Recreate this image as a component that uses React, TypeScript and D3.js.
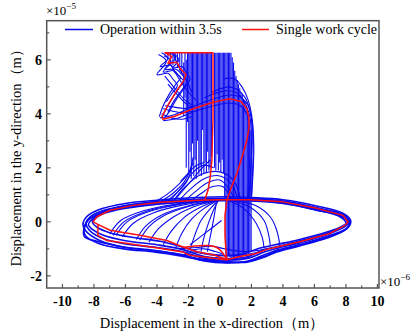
import React from 'react'
import * as d3 from 'd3'

type Pt = [number, number]

// axis ticks (x in 1e-6 m, y in 1e-5 m)
const xTickValues = [-10, -8, -6, -4, -2, 0, 2, 4, 6, 8, 10]
const xMinorTicks = [-9, -7, -5, -3, -1, 1, 3, 5, 7, 9]
const yTickValues = [-2, 0, 2, 4, 6]
const yMinorTicks = [-1, 1, 3, 5, 7]

// single work cycle (red)
const redCycle: Pt[] = [
  [-0.95, 0.83], [-0.76, 1.17], [-0.63, 1.61], [-0.51, 2.28], [-0.48, 3.02], [-0.44, 3.76],
  [-0.44, 4.5], [-0.44, 5.24], [-0.44, 6.26],
  [-3.49, 6.26], [-3.05, 6.13], [-3.3, 5.87], [-2.73, 5.91], [-2.54, 5.69], [-2.16, 5.46],
  [-2.29, 5.24], [-2.73, 4.87], [-3.24, 4.39], [-3.68, 3.91], [-3.62, 3.8],
  [-2.86, 3.91], [-1.78, 4.17], [-0.44, 4.43], [0.63, 4.56], [1.33, 4.46], [1.71, 4.2],
  [1.84, 3.83], [1.84, 3.46], [1.71, 3.02], [1.4, 2.39], [1.08, 1.8], [0.7, 1.24],
  [0.44, 0.8], [0.32, 0.24], [0.32, -0.5], [0.38, -1.06], [0.44, -1.4],
  [1.27, -1.28], [2.29, -1.17], [2.98, -1.02], [3.62, -0.93], [5.08, -0.74], [6.98, -0.43],
  [7.94, -0.13], [8.13, 0.0], [7.81, 0.24], [6.16, 0.5], [4.0, 0.74], [1.9, 0.82],
  [0.44, 0.83], [-1.27, 0.8], [-3.81, 0.73], [-5.52, 0.61], [-6.98, 0.43], [-7.81, 0.19],
  [-8.06, 0.0], [-7.62, -0.13], [-6.98, -0.31], [-5.08, -0.5], [-3.37, -0.69], [-2.35, -0.93],
  [-1.46, -1.11], [-0.32, -1.24], [0.44, -1.4],
  [-0.3, -1.36], [-1.9, -1.24], [-2.35, -1.12], [-5.08, -0.87], [-7.17, -0.69], [-7.75, -0.5],
  [-7.75, -0.13],
]
const redLens: Pt[] = [
  [-2.35, -0.95], [-1.7, -0.9], [-0.8, -0.88], [-0.2, -0.95], [0.1, -1.1], [0.44, -1.4],
]

// operation within 3.5 s (blue)
const blueRings: Pt[][] = [
  [[-8.7, -0.1], [-8.45, 0.2], [-7.7, 0.45], [-6, 0.68], [-4, 0.8], [-1.5, 0.9], [0.5, 0.93], [2, 0.9],
   [4, 0.82], [6.2, 0.58], [7.8, 0.32], [8.3, 0.05], [8.15, -0.2], [7, -0.5], [5.2, -0.82], [3.8, -1.02],
   [2.9, -1.2], [1.8, -1.45], [0.5, -1.52], [-1, -1.45], [-2.5, -1.2], [-4, -1.08], [-6, -0.95],
   [-7.6, -0.7], [-8.5, -0.35]],
  [[-8.5, -0.05], [-8.2, 0.2], [-7.4, 0.42], [-5.8, 0.62], [-3.8, 0.76], [-1.3, 0.84], [0.5, 0.87], [2, 0.85],
   [4, 0.77], [6.1, 0.53], [7.8, 0.27], [8.2, 0.02], [8.0, -0.15], [6.9, -0.45], [5.1, -0.77], [3.7, -0.97],
   [2.8, -1.12], [1.8, -1.35], [0.5, -1.42], [-1, -1.35], [-2.4, -1.1], [-4, -0.95], [-6, -0.82],
   [-7.5, -0.6], [-8.3, -0.3]],
  [[-8.35, -0.1], [-8.0, 0.15], [-7.2, 0.38], [-5.6, 0.58], [-3.6, 0.72], [-1.2, 0.8], [0.5, 0.83], [2, 0.81],
   [4, 0.73], [6.1, 0.48], [7.7, 0.22], [8.1, -0.02], [7.9, -0.12], [6.9, -0.4], [5.0, -0.72], [3.6, -0.92],
   [2.7, -1.05], [1.8, -1.28], [0.5, -1.36], [-1, -1.28], [-2.4, -1.02], [-4, -0.85], [-6, -0.7],
   [-7.4, -0.5], [-8.1, -0.28]],
  [[-8.1, 0.0], [-7.6, 0.25], [-6.5, 0.45], [-4.5, 0.62], [-2, 0.74], [0, 0.78], [2, 0.77], [4, 0.68],
   [6, 0.45], [7.6, 0.2], [8.0, -0.05], [7.8, -0.15], [6.8, -0.38], [5, -0.66], [3.5, -0.85], [2.5, -0.98],
   [1.5, -1.18], [0.3, -1.25], [-1, -1.18], [-2.3, -0.95], [-3.8, -0.72], [-5.5, -0.58], [-7, -0.4],
   [-7.8, -0.2]],
  [[-8.6, -0.2], [-8.3, 0.1], [-7.5, 0.35], [-5.9, 0.6], [-3.9, 0.74], [-1.4, 0.82], [0.5, 0.85], [2.1, 0.83],
   [4.1, 0.75], [6.2, 0.5], [7.9, 0.22], [8.25, -0.04], [8.05, -0.25], [6.9, -0.55], [5.1, -0.86], [3.7, -1.08],
   [2.8, -1.28], [1.7, -1.48], [0.4, -1.5], [-1.1, -1.42], [-2.6, -1.25], [-4.1, -1.12], [-6.1, -1.0],
   [-7.7, -0.8], [-8.55, -0.5]],
  [[-8.65, -0.3], [-8.4, 0.05], [-7.6, 0.3], [-6.0, 0.55], [-4.0, 0.7], [-1.5, 0.8], [0.5, 0.84], [2.0, 0.8],
   [4.0, 0.7], [6.1, 0.44], [7.8, 0.18], [8.2, -0.08], [7.95, -0.3], [6.8, -0.6], [5.0, -0.9], [3.6, -1.12],
   [2.7, -1.33], [1.6, -1.5], [0.3, -1.46], [-1.2, -1.38], [-2.7, -1.2], [-4.2, -1.05], [-6.2, -0.92],
   [-7.8, -0.72], [-8.6, -0.55]],
]

const blueArcsLeft: Pt[][] = [
  [[-7.0, -0.45], [-6.3, 0.05], [-4.8, 0.42], [-2.8, 0.66], [-0.9, 0.8], [0.3, 0.84]],
  [[-6.8, -0.5], [-6.1, 0.0], [-4.6, 0.4], [-2.7, 0.65], [-0.85, 0.8], [0.3, 0.84]],
  [[-6.6, -0.5], [-5.9, 0.0], [-4.5, 0.38], [-2.6, 0.64], [-0.8, 0.79], [0.3, 0.83]],
  [[-6.2, -0.55], [-5.5, -0.05], [-4.2, 0.34], [-2.4, 0.62], [-0.7, 0.78], [0.3, 0.82]],
  [[-5.3, -0.65], [-4.7, -0.15], [-3.6, 0.28], [-2.1, 0.58], [-0.6, 0.76], [0.3, 0.82]],
  [[-5.1, -0.68], [-4.5, -0.18], [-3.45, 0.26], [-2.0, 0.57], [-0.55, 0.76], [0.3, 0.82]],
  [[-4.5, -0.75], [-3.9, -0.25], [-2.9, 0.2], [-1.7, 0.55], [-0.5, 0.75], [0.3, 0.8]],
  [[-3.6, -0.85], [-3.1, -0.35], [-2.3, 0.15], [-1.3, 0.52], [-0.3, 0.76]],
  [[-2.8, -0.95], [-2.4, -0.4], [-1.8, 0.1], [-1.0, 0.5], [-0.2, 0.78]],
  [[-1.9, -1.05], [-1.6, -0.5], [-1.2, 0.05], [-0.6, 0.5], [-0.1, 0.8]],
  [[-1.2, -1.1], [-1.0, -0.55], [-0.7, 0.0], [-0.4, 0.45], [-0.1, 0.8]],
  [[-0.8, -1.1], [-0.6, -0.5], [-0.4, 0.1], [-0.2, 0.8]],
  [[-1.9, -0.85], [-0.9, -0.4], [0.1, 0.05]],
]

const blueArcsRight: Pt[][] = [
  [[0.6, 0.82], [2.3, 0.6], [3.2, 0.18], [3.6, -0.3], [3.8, -0.85]],
  [[0.5, 0.82], [1.9, 0.55], [2.8, 0.05], [3.1, -0.5], [3.2, -0.9]],
  [[0.5, 0.8], [1.5, 0.5], [2.3, -0.05], [2.7, -0.6], [2.8, -0.98]],
]

const blueDome: Pt[][] = [
  [[-3.0, 0.75], [-2.2, 1.3], [-1.2, 1.75], [0.0, 1.85], [0.9, 1.5], [1.3, 0.85]],
  [[-2.6, 0.78], [-1.9, 1.2], [-1.0, 1.6], [0.0, 1.7], [0.8, 1.35], [1.1, 0.85]],
  [[-2.2, 0.8], [-1.6, 1.1], [-0.8, 1.45], [0.0, 1.55], [0.6, 1.2], [0.9, 0.85]],
  [[-1.8, 0.8], [-1.2, 1.05], [-0.5, 1.3], [0.2, 1.3], [0.7, 0.85]],
  [[-4.2, 0.72], [-3.4, 1.0], [-2.6, 1.4], [-2.0, 1.8], [-1.7, 2.2]],
  [[-3.8, 0.74], [-3.0, 1.05], [-2.3, 1.45], [-1.9, 1.9], [-1.7, 2.4]],
  [[-3.4, 0.76], [-2.7, 1.1], [-2.1, 1.5], [-1.8, 2.0]],
  [[-3.2, 0.76], [-2.4, 1.3], [-1.6, 1.9], [-1.0, 2.1], [-0.4, 2.0]],
  [[-2.9, 0.78], [-2.3, 1.2], [-1.7, 1.6], [-1.2, 1.95], [-0.6, 2.3]],
  [[-2.5, 1.5], [-2.1, 1.75], [-1.6, 2.05], [-1.0, 2.2]],
]

const blueZigzag: Pt[][] = [
  [[-3.7, 6.26], [-3.3, 6.05], [-3.8, 5.75], [-3.1, 5.8], [-2.9, 5.55], [-2.5, 5.35], [-2.8, 5.1], [-3.2, 4.75], [-3.6, 4.3], [-3.85, 3.9]],
  [[-3.3, 6.26], [-2.8, 6.1], [-3.6, 5.55], [-2.9, 5.6], [-2.6, 5.4], [-2.3, 5.2], [-2.6, 4.95], [-3.0, 4.6], [-3.4, 4.2], [-3.7, 3.85]],
  [[-3.9, 6.2], [-3.4, 5.95], [-4.0, 5.45], [-3.3, 5.5], [-3.0, 5.3], [-2.7, 5.05], [-3.0, 4.8], [-3.4, 4.45]],
  [[-3.0, 6.26], [-2.6, 6.0], [-3.0, 5.7], [-2.4, 5.75], [-2.1, 5.5], [-1.9, 5.3], [-2.2, 5.0], [-2.7, 4.6], [-3.2, 4.1], [-3.5, 3.85]],
  [[-3.55, 6.15], [-3.1, 5.95], [-3.5, 5.65], [-2.8, 5.65], [-2.4, 5.45], [-2.1, 5.2], [-2.4, 4.9], [-2.9, 4.5], [-3.3, 4.05]],
  [[-3.2, 5.9], [-2.6, 5.3], [-2.0, 4.8], [-1.5, 4.5]],
  [[-3.5, 5.4], [-2.8, 4.9], [-2.2, 4.5], [-1.7, 4.3]],
  [[-3.0, 6.26], [-2.5, 5.6], [-2.0, 5.1], [-1.8, 4.8]],
  [[-3.3, 5.1], [-2.7, 4.7], [-2.1, 4.35], [-1.6, 4.2]],
  [[-3.6, 4.2], [-3.0, 4.1], [-2.4, 4.05], [-1.8, 4.1]],
  [[-3.7, 4.0], [-3.1, 3.85], [-2.4, 3.8], [-1.8, 3.9]],
  [[-3.5, 4.3], [-2.9, 4.25], [-2.3, 4.2], [-1.7, 4.25]],
]

const blueArches: Pt[][] = [
  [[-3.8, 3.85], [-2.9, 3.97], [-1.8, 4.25], [-0.4, 4.55], [0.6, 4.7], [1.35, 4.6], [1.8, 4.3], [2.0, 3.8], [2.05, 3.0], [1.95, 2.0], [1.85, 1.0], [1.8, 0.85]],
  [[-3.6, 3.75], [-2.8, 3.82], [-1.8, 4.05], [-0.4, 4.3], [0.6, 4.4], [1.3, 4.3], [1.7, 4.0], [1.85, 3.5], [1.9, 2.8], [1.85, 1.8], [1.75, 0.85]],
  [[-0.5, 4.8], [0.5, 5.0], [1.1, 4.9], [1.6, 4.6], [1.95, 4.0], [2.1, 3.3], [2.1, 2.4], [2.05, 1.5], [2.0, 0.85]],
  [[0.2, 5.3], [0.9, 5.3], [1.4, 5.0], [1.8, 4.5], [2.05, 3.8], [2.15, 2.8], [2.1, 1.8], [2.0, 0.9]],
  [[-1.0, 4.6], [0.3, 4.85], [1.0, 4.8], [1.5, 4.5], [1.9, 3.9], [2.0, 3.0], [1.98, 2.0], [1.9, 0.9]],
]

const blueBottom: Pt[][] = [
  [[-2.6, -1.0], [-1.5, -0.95], [-0.5, -0.9], [0.3, -1.0], [1.5, -1.1], [2.5, -1.05], [3.0, -1.0]],
  [[-2.3, -1.2], [-1.0, -1.3], [0.0, -1.35], [1.0, -1.4], [2.0, -1.3]],
  [[-1.8, -1.05], [-1.0, -1.0], [-0.3, -1.1], [0.2, -1.2]],
  [[-2.1, -1.1], [-1.2, -1.15], [-0.4, -1.2], [0.6, -1.25], [1.6, -1.22], [2.6, -1.1]],
]

// vertical strokes of the central column: [x, yTop, yBottom]
const columnLines: [number, number, number][] = [
  [-3.3, 6.26, 6.0], [-3.15, 6.26, 5.9], [-2.98, 6.26, 5.8], [-2.85, 6.26, 5.95], [-2.7, 6.26, 5.7],
  [-2.55, 6.26, 5.6], [-2.42, 6.26, 5.5], [-2.3, 5.9, 3.9], [-2.22, 6.26, 4.6], [-2.14, 6.0, 2.0],
  [-2.06, 6.26, 3.7], [-1.98, 6.26, 1.8], [-1.9, 6.26, 2.6], [-1.82, 6.26, 1.6], [-1.74, 6.26, 2.9],
  [-1.66, 6.26, 1.7], [-1.58, 6.26, 2.3], [-1.5, 6.26, 1.6], [-1.42, 6.26, 3.0], [-1.34, 6.26, 1.75],
  [-1.26, 6.26, 2.1], [-1.18, 6.26, 1.7], [-1.1, 6.26, 3.4], [-1.02, 6.26, 1.8], [-0.94, 6.26, 2.2],
  [-0.86, 6.26, 1.85], [-0.78, 6.26, 2.6], [-0.7, 6.26, 1.9], [-0.62, 6.26, 2.0], [-0.54, 6.26, 2.4],
  [-0.34, 6.26, 2.0], [-0.26, 6.26, 1.9], [-0.18, 6.26, 2.5], [-0.1, 6.26, 1.9], [-0.02, 6.26, 2.2],
  [0.06, 6.26, 1.85], [0.14, 6.26, 2.3], [0.22, 6.26, 1.8], [0.3, 6.26, 0.9], [0.38, 6.26, -1.2],
  [0.46, 6.26, -1.3], [0.54, 6.26, -1.25], [0.62, 6.26, -1.3], [0.7, 6.26, -1.35], [0.78, 6.1, -1.3],
  [0.86, 5.9, -1.35], [0.94, 5.6, -1.3], [1.02, 5.4, -1.35], [1.1, 5.25, -1.3], [1.18, 5.1, -1.3],
  [1.26, 4.95, -1.28], [1.34, 4.8, -1.3], [1.42, 4.7, -1.25], [1.5, 4.55, -1.25], [1.58, 4.45, -1.2],
  [1.66, 4.3, -1.22], [1.74, 4.15, -1.15], [1.82, 4.0, -1.18], [1.9, 3.8, -1.1], [1.98, 3.4, -1.05],
]

const W = 416
const H = 335
const plot = { left: 46.7, right: 379, top: 20.7, bottom: 288 }
const BLUE = '#0a0aee'
const RED = '#ff1010'
const AXIS = '#555'
const serif = '"Liberation Serif", "Times New Roman", serif'

const App = () => {
  const x = d3.scaleLinear().domain([-11, 10.1]).range([plot.left, plot.right])
  const y = d3.scaleLinear().domain([-2.45, 7.45]).range([plot.bottom, plot.top])

  const smooth = d3.line<Pt>().x(d => x(d[0])).y(d => y(d[1])).curve(d3.curveCatmullRom.alpha(0.5))
  const loop = d3.line<Pt>().x(d => x(d[0])).y(d => y(d[1])).curve(d3.curveCatmullRomClosed.alpha(0.5))
  const straight = d3.line<Pt>().x(d => x(d[0])).y(d => y(d[1]))

  const bluePaths = [...blueArcsLeft, ...blueArcsRight, ...blueDome, ...blueZigzag, ...blueArches, ...blueBottom]

  return (
    <svg width={W} height={H} style={{ position: 'absolute', left: 0, top: 0, background: '#fff' }}
      fontFamily={serif}>
      <defs>
        <clipPath id="plotClip">
          <rect x={plot.left} y={plot.top} width={plot.right - plot.left} height={plot.bottom - plot.top} />
        </clipPath>
      </defs>

      <g clipPath="url(#plotClip)" fill="none">
        {columnLines.map((c, i) => (
          <line key={'c' + i} x1={x(c[0])} x2={x(c[0])} y1={y(c[1])} y2={y(c[2])}
            stroke={BLUE} strokeWidth={1.1} />
        ))}
        {blueRings.map((r, i) => (
          <path key={'r' + i} d={loop(r) || ''} stroke={BLUE} strokeWidth={1.6} />
        ))}
        {bluePaths.map((p, i) => (
          <path key={'b' + i} d={smooth(p) || ''} stroke={BLUE} strokeWidth={1.1} />
        ))}
        <path d={straight(redCycle) || ''} stroke={RED} strokeWidth={1.5} strokeLinejoin="round" />
        <path d={smooth(redLens) || ''} stroke={RED} strokeWidth={1.5} />
      </g>

      {/* frame */}
      <rect x={plot.left} y={plot.top} width={plot.right - plot.left} height={plot.bottom - plot.top}
        fill="none" stroke={AXIS} strokeWidth={1.5} />

      {/* x ticks, inward */}
      {xTickValues.map(t => (
        <g key={'xt' + t}>
          <line x1={x(t)} x2={x(t)} y1={plot.bottom} y2={plot.bottom - 4} stroke={AXIS} strokeWidth={1.2} />
          <text x={x(t)} y={306} textAnchor="middle" fontSize={14} fontWeight="bold">{t}</text>
        </g>
      ))}
      {xMinorTicks.map(t => (
        <line key={'xm' + t} x1={x(t)} x2={x(t)} y1={plot.bottom} y2={plot.bottom - 2.5} stroke={AXIS} strokeWidth={1.2} />
      ))}

      {/* y ticks, inward */}
      {yTickValues.map(t => (
        <g key={'yt' + t}>
          <line x1={plot.left} x2={plot.left + 4} y1={y(t)} y2={y(t)} stroke={AXIS} strokeWidth={1.2} />
          <text x={42} y={y(t) + 5} textAnchor="end" fontSize={14} fontWeight="bold">{t}</text>
        </g>
      ))}
      {yMinorTicks.map(t => (
        <line key={'ym' + t} x1={plot.left} x2={plot.left + 2.5} y1={y(t)} y2={y(t)} stroke={AXIS} strokeWidth={1.2} />
      ))}

      {/* multipliers */}
      <text x={46} y={15} fontSize={13}>×10<tspan dy={-6} fontSize={9}>−5</tspan></text>
      <text x={380} y={286} fontSize={13}>×10<tspan dy={-6} fontSize={9}>−6</tspan></text>

      {/* axis titles */}
      <text x={212} y={328} textAnchor="middle" fontSize={14.5}>Displacement in the x-direction（m）</text>
      <text transform={`translate(21,${(plot.top + plot.bottom) / 2}) rotate(-90)`} textAnchor="middle" fontSize={14.5}>
        Displacement in the y-direction（m）
      </text>

      {/* legend */}
      <line x1={65} x2={93} y1={29.5} y2={29.5} stroke={BLUE} strokeWidth={1.5} />
      <text x={100} y={34} fontSize={14}>Operation within 3.5s</text>
      <line x1={242} x2={269} y1={29.5} y2={29.5} stroke={RED} strokeWidth={1.5} />
      <text x={276} y={34} fontSize={14}>Single work cycle</text>
    </svg>
  )
}

export default App
